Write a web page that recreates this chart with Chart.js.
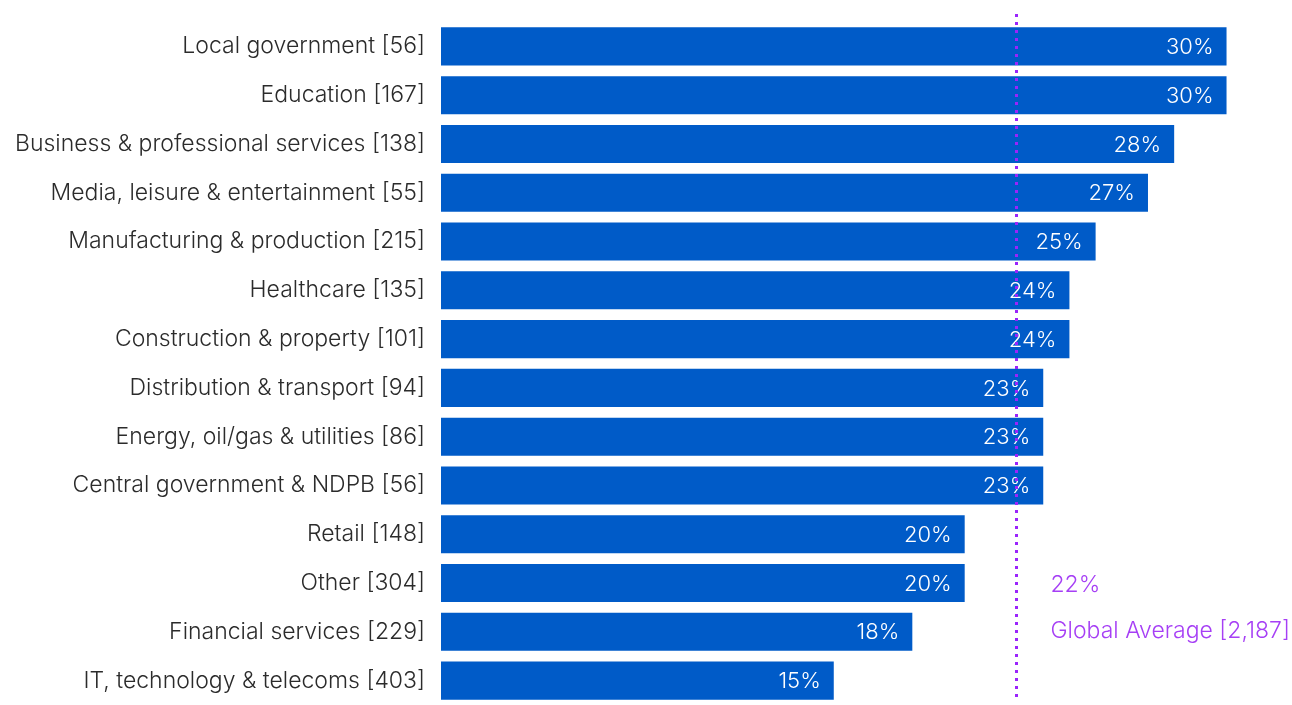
<!DOCTYPE html>
<html>
<head>
<meta charset="utf-8">
<script src="https://cdn.jsdelivr.net/npm/chart.js@4/dist/chart.umd.min.js"></script>
<style>
  html, body { margin: 0; padding: 0; background: #fff; }
  canvas { display: block; }
</style>
</head>
<body>
<canvas id="sectorChart" width="1292" height="705"></canvas>
<script>
// datos
const sectores = [
    'Local government [56]',
    'Education [167]',
    'Business & professional services [138]',
    'Media, leisure & entertainment [55]',
    'Manufacturing & production [215]',
    'Healthcare [135]',
    'Construction & property [101]',
    'Distribution & transport [94]',
    'Energy, oil/gas & utilities [86]',
    'Central government & NDPB [56]',
    'Retail [148]',
    'Other [304]',
    'Financial services [229]',
    'IT, technology & telecoms [403]'
];
const porcentajes = [30, 30, 28, 27, 25, 24, 24, 23, 23, 23, 20, 20, 18, 15];
const promedioGlobal = 22;
const promedioTexto = ['22%', 'Global Average [2,187]'];

const fuente = "Inter, Roboto, sans-serif";
const morado = '#a63ff5';

// etiquetas de valor dentro de la barra
const etiquetasValor = {
    id: 'etiquetasValor',
    afterDatasetsDraw(chart) {
        const ctx = chart.ctx;
        const meta = chart.getDatasetMeta(0);
        ctx.save();
        ctx.font = '300 22px ' + fuente;
        ctx.fillStyle = '#ffffff';
        ctx.textAlign = 'right';
        ctx.textBaseline = 'middle';
        meta.data.forEach((bar, i) => {
            ctx.fillText(porcentajes[i] + '%', bar.x - 13, bar.y + 1);
        });
        ctx.restore();
    }
};

// línea del promedio global
const lineaPromedio = {
    id: 'lineaPromedio',
    afterDraw(chart) {
        const ctx = chart.ctx;
        const x = Math.round(chart.scales.x.getPixelForValue(promedioGlobal)) - 0.5;
        const area = chart.chartArea;
        const y = chart.scales.y;
        ctx.save();
        ctx.strokeStyle = '#9b24fb';
        ctx.lineWidth = 3;
        ctx.setLineDash([3, 5]);
        ctx.beginPath();
        ctx.moveTo(x, area.top - 8);
        ctx.lineTo(x, area.bottom - 4);
        ctx.stroke();
        ctx.setLineDash([]);
        ctx.font = '300 23px ' + fuente;
        ctx.fillStyle = morado;
        ctx.textAlign = 'left';
        ctx.textBaseline = 'middle';
        ctx.fillText(promedioTexto[0], x + 34, y.getPixelForValue(11) + 2);
        ctx.fillText(promedioTexto[1], x + 34, y.getPixelForValue(12) - 1);
        ctx.restore();
    }
};

new Chart(document.getElementById('sectorChart'), {
    type: 'bar',
    data: {
        labels: sectores,
        datasets: [{
            data: porcentajes,
            backgroundColor: '#005bc8',
            barPercentage: 0.78,
            categoryPercentage: 1
        }]
    },
    options: {
        indexAxis: 'y',
        responsive: false,
        animation: false,
        layout: { padding: { top: 22, right: 0, bottom: 0, left: 0 } },
        plugins: {
            legend: { display: false },
            tooltip: { enabled: false }
        },
        scales: {
            x: {
                min: 0,
                max: 32.5,
                display: false
            },
            y: {
                border: { display: false },
                grid: { display: false, drawTicks: false },
                ticks: {
                    color: '#2b2b2b',
                    font: { family: fuente, size: 23, weight: '300' },
                    padding: 16
                },
                afterFit(scale) {
                    scale.width = 441;
                    scale.paddingTop = 0;
                    scale.paddingBottom = 0;
                }
            }
        }
    },
    plugins: [etiquetasValor, lineaPromedio]
});
</script>
</body>
</html>
